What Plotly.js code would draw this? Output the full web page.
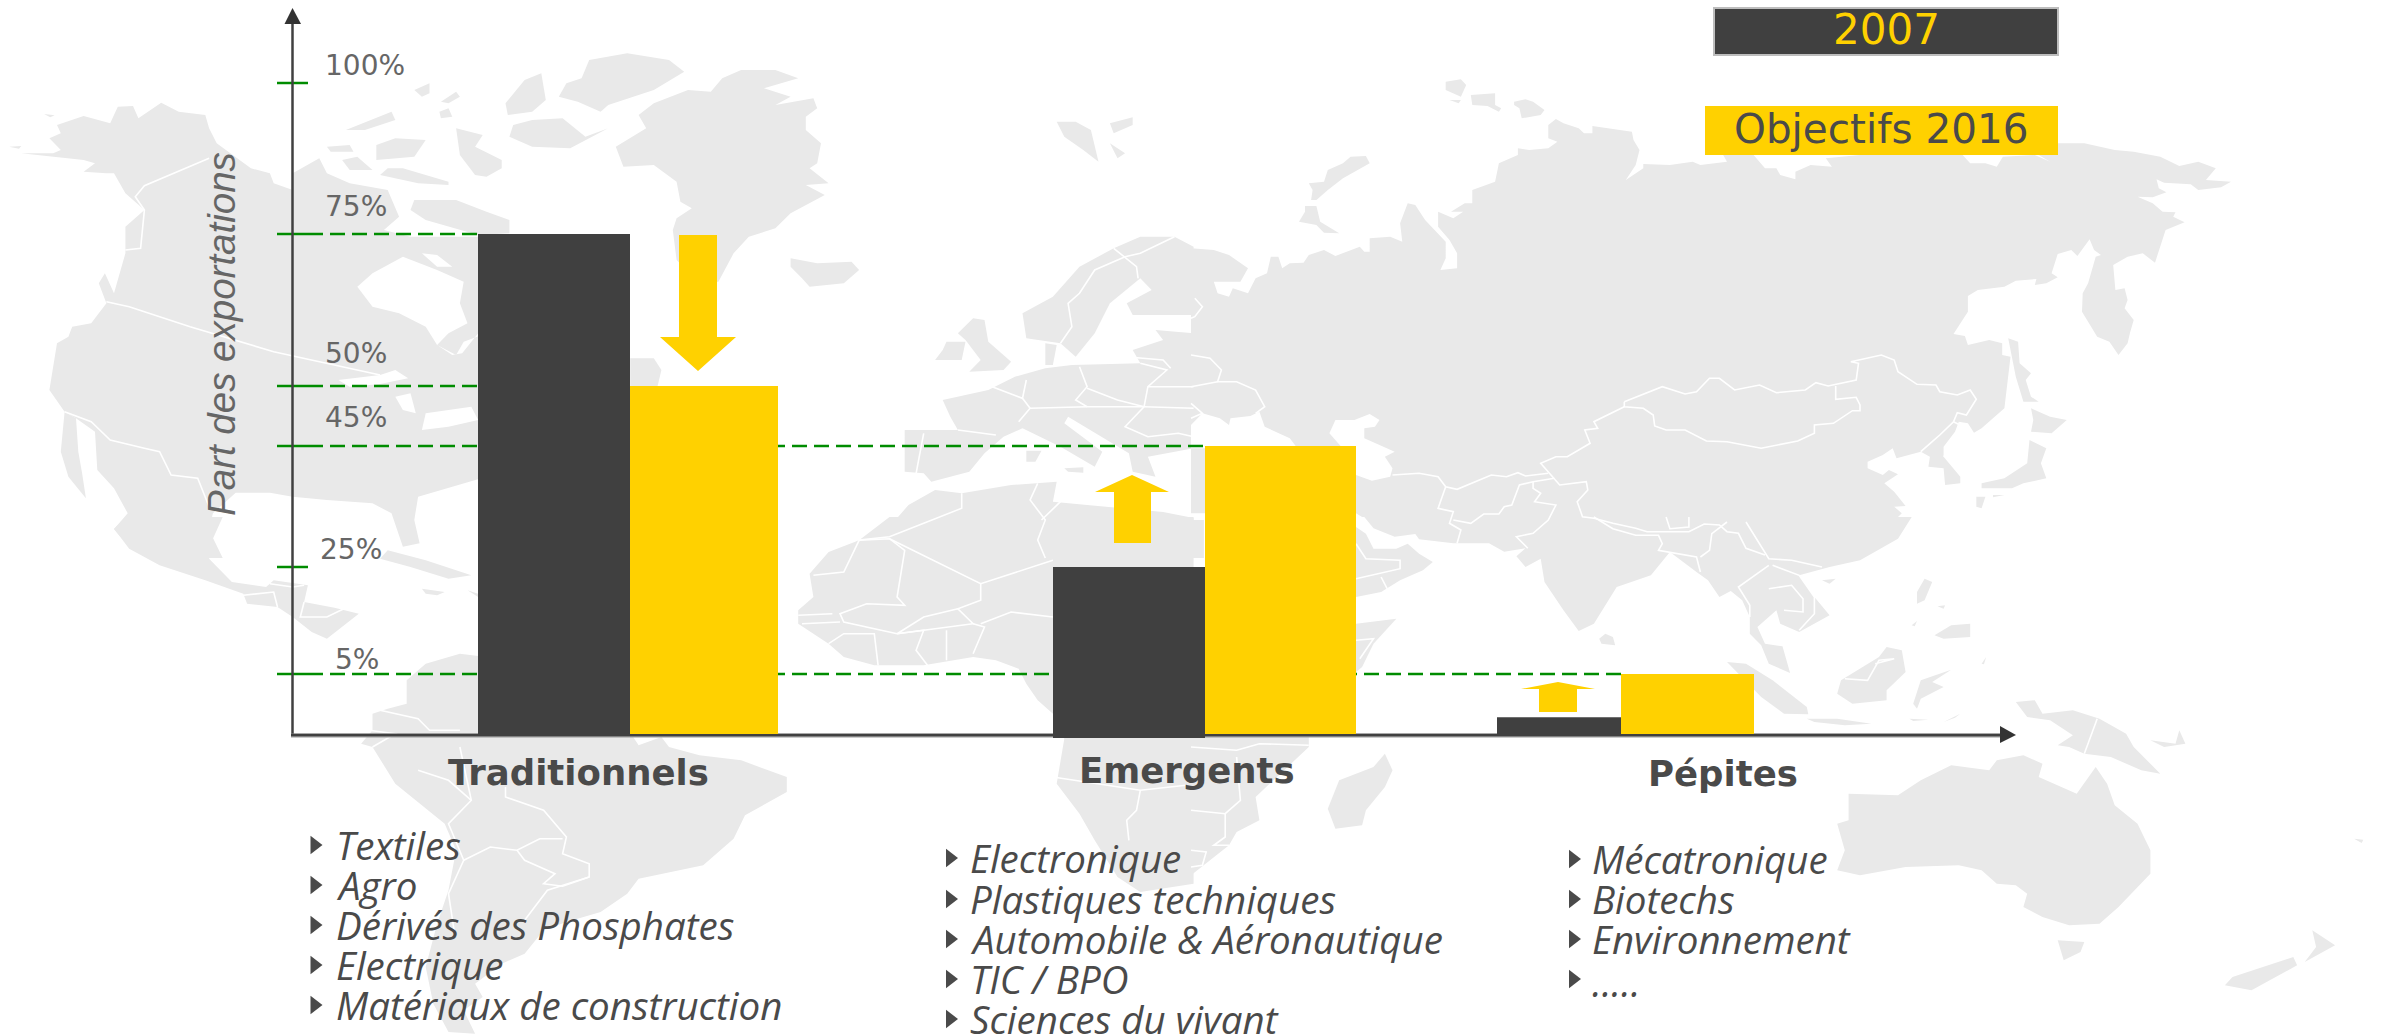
<!DOCTYPE html>
<html>
<head>
<meta charset="utf-8">
<script src="https://cdn.plot.ly/plotly-3.0.1.min.js"></script>
<style>html,body{margin:0;padding:0;background:#fff}</style>
</head>
<body>
<div id="chart" style="width:2383px;height:1035px"></div>
<script>
// ---------- chart values ----------
const categories = ['Traditionnels', 'Emergents', 'Pépites'];
const values2007 = [75, 25, 1.4];
const values2016 = [50, 45, 5];
const tickValues = [0, 5, 25, 45, 50, 75, 100];
const tickLabels = ['', '5%', '25%', '45%', '50%', '75%', '100%'];
const listTraditionnels = ['Textiles', 'Agro', 'Dérivés des Phosphates', 'Electrique', 'Matériaux de construction'];
const listEmergents = ['Electronique', 'Plastiques techniques', 'Automobile & Aéronautique', 'TIC / BPO', 'Sciences du vivant'];
const listPepites = ['Mécatronique', 'Biotechs', 'Environnement', '.....'];

// ---------- the reference's hand-drawn, non-uniform value axis (height in px above the baseline) ----------
const tickHeights = [0, 60, 167, 288, 348, 500, 651];
const BASE = 734;
function axisPos(v) {
  if (v <= tickValues[1]) return v * tickHeights[1] / tickValues[1];
  for (let i = 1; i < tickValues.length; i++) {
    if (v <= tickValues[i]) {
      const t = (v - tickValues[i-1]) / (tickValues[i] - tickValues[i-1]);
      return tickHeights[i-1] + t * (tickHeights[i] - tickHeights[i-1]);
    }
  }
  return tickHeights[tickHeights.length-1];
}
const Y = py => BASE - py;

// ---------- layout of the bars ----------
const darkEdges = [[478,630],[1053,1205],[1497,1621]];
const goldEdges = [[630,778],[1205,1356],[1621,1754]];
const darkBase = [0,-4,0];

const DARK = '#404040', GOLD = '#FFD100', LAND = '#E9E9E9', GREEN = '#008C00', TEXT = '#4A4A4A', AXT = '#666666';

// ---------- background world map, traced in four crops ----------
const Q = {A:[0,40], B:[1191,40], C:[0,517], D:[1191,517]};
const land = [
 ['A',[[75,255],[110,228],[145,250],[155,200],[175,198],[182,235],[212,188],[235,215],[270,225],[275,265],[285,310],[330,385],[355,400],[360,430],[385,450],[385,400],[420,355],[430,400],[460,430],[510,450],[525,530],[505,570],[540,590],[629,590],[640,1310],[550,1370],[545,1440],[552,1510],[530,1520],[515,1420],[490,1390],[430,1380],[385,1370],[355,1358],[310,1358],[280,1420],[275,1470],[293,1554],[195,1554],[170,1520],[150,1468],[168,1420],[150,1345],[128,1290],[125,1175],[100,1135],[85,1115],[65,1050],[75,910],[90,890],[95,860],[120,850],[140,790],[130,730],[138,700],[150,760],[165,640],[165,560],[190,510],[165,460],[150,400],[140,400],[110,395],[125,370],[110,360],[28,340],[70,340],[80,330],[65,295],[80,280]]],
 ['A',[[12,320],[28,318],[25,326]]],
 ['A',[[58,222],[72,226],[66,232]]],
 ['A',[[85,1115],[100,1135],[103,1235],[108,1300],[113,1375],[90,1310],[80,1235]]],
 ['A',[[765,115],[775,60],[825,40],[880,60],[900,95],[860,150],[800,195],[790,215],[760,185],[735,170],[745,130]]],
 ['A',[[665,190],[690,120],[712,100],[718,180],[700,215],[668,225]]],
 ['A',[[860,190],[905,150],[935,155],[950,115],[975,90],[1020,90],[1050,115],[1005,145],[1040,170],[1020,195],[1070,175],[1075,205],[1060,230],[1060,270],[1080,310],[1075,370],[1065,385],[1090,430],[1060,435],[1085,465],[1040,520],[1020,565],[985,590],[965,640],[945,725],[920,730],[890,660],[885,570],[890,535],[910,505],[895,485],[890,425],[860,375],[820,380],[810,320],[850,265],[840,225]]],
 ['A',[[675,255],[700,240],[740,235],[770,290],[800,265],[808,255],[750,325],[700,320],[670,290]]],
 ['A',[[600,265],[635,285],[625,320],[660,360],[660,385],[640,410],[625,405],[605,345]]],
 ['A',[[495,315],[520,295],[560,300],[545,350],[495,360]]],
 ['A',[[455,270],[515,215],[520,240],[480,270]]],
 ['A',[[580,185],[600,155],[605,170],[590,190]]],
 ['A',[[545,150],[565,130],[565,160],[555,170]]],
 ['A',[[578,215],[590,205],[595,230],[580,235]]],
 ['A',[[430,320],[460,315],[465,335],[435,335]]],
 ['A',[[450,360],[470,350],[490,390],[460,390]]],
 ['A',[[510,385],[530,385],[590,425],[590,435],[550,430],[500,405]]],
 ['A',[[545,480],[600,480],[640,515],[670,540],[670,580],[629,585],[560,540],[540,510]]],
 ['A',[[829,955],[860,955],[870,990],[865,1038],[829,1038]]],
 ['A',[[1040,655],[1075,670],[1120,665],[1130,690],[1110,730],[1065,740],[1055,715],[1040,680]]],
 ['A',[[1390,245],[1415,245],[1435,270],[1445,365],[1425,330],[1400,290]]],
 ['A',[[1460,250],[1490,232],[1490,255],[1465,280]]],
 ['A',[[1460,310],[1480,340],[1470,355]]],
 ['A',[[1280,835],[1295,840],[1300,905],[1330,965],[1320,990],[1275,995],[1290,960],[1270,900],[1260,880]]],
 ['A',[[1245,905],[1270,905],[1265,960],[1230,960],[1240,930]]],
 ['A',[[1345,820],[1385,770],[1420,680],[1465,625],[1500,590],[1545,590],[1570,620],[1570,825],[1490,825],[1482,790],[1515,750],[1500,715],[1460,790],[1440,880],[1415,950],[1395,910],[1350,895]]],
 ['A',[[1375,910],[1390,915],[1385,975],[1375,975]]],
 ['A',[[1240,1080],[1300,1050],[1335,1010],[1375,985],[1410,975],[1500,970],[1490,930],[1530,900],[1520,870],[1570,880],[1570,1225],[1510,1250],[1520,1310],[1490,1295],[1485,1240],[1405,1130],[1400,1150],[1450,1235],[1440,1280],[1395,1220],[1345,1165],[1320,1190],[1295,1240],[1275,1295],[1225,1325],[1215,1300],[1190,1295],[1190,1170],[1260,1170],[1250,1130]]],
 ['A',[[1350,1232],[1370,1232],[1362,1265],[1350,1265]]],
 ['A',[[1400,1285],[1425,1282],[1425,1298],[1405,1295]]],
 ['A',[[1090,1554],[1130,1500],[1170,1460],[1195,1395],[1230,1350],[1265,1360],[1330,1335],[1390,1325],[1385,1385],[1430,1395],[1530,1416],[1570,1434],[1570,1554]]],
 ['C',[[1170,0],[1130,70],[1090,105],[1065,170],[1070,240],[1050,280],[1050,320],[1090,380],[1110,420],[1150,445],[1215,445],[1280,420],[1310,430],[1340,455],[1350,500],[1365,550],[1385,590],[1400,665],[1390,800],[1420,890],[1440,970],[1470,1080],[1500,1125],[1570,1100],[1570,0]]],
 ['C',[[150,35],[170,95],[210,145],[270,190],[320,230],[325,260],[365,270],[385,300],[410,345],[430,365],[472,290],[440,272],[400,255],[405,205],[360,190],[350,210],[305,195],[275,125],[280,65],[293,0],[165,0]]],
 ['C',[[510,100],[560,130],[620,175],[590,185],[540,150],[500,125]]],
 ['C',[[555,215],[585,225],[575,235],[560,230]]],
 ['C',[[615,220],[629,230],[629,240]]],
 ['C',[[490,590],[510,575],[535,560],[535,490],[560,440],[605,410],[640,420],[640,650],[830,650],[840,685],[870,660],[880,690],[920,715],[975,730],[1035,780],[1035,825],[980,895],[965,965],[925,1045],[840,1085],[825,1130],[790,1185],[745,1215],[715,1240],[690,1310],[660,1340],[625,1400],[635,1440],[610,1480],[625,1550],[590,1545],[570,1460],[560,1350],[575,1220],[590,1120],[600,1000],[585,920],[520,800],[490,690],[475,680],[490,640]]],
 ['B',[[0,625],[30,630],[50,645],[75,685],[65,725],[30,725],[35,760],[50,770],[55,745],[75,760],[85,715],[100,700],[105,650],[115,650],[120,685],[130,670],[148,668],[155,645],[175,630],[190,648],[222,620],[228,635],[235,635],[235,595],[262,590],[278,605],[275,550],[285,490],[295,495],[308,540],[335,605],[335,655],[328,690],[350,685],[350,640],[340,600],[325,560],[325,515],[345,535],[358,515],[342,515],[360,490],[370,490],[370,450],[400,425],[405,370],[430,345],[430,325],[445,330],[470,325],[482,305],[470,295],[470,255],[480,237],[490,250],[510,265],[517,280],[528,280],[528,258],[580,275],[582,300],[590,330],[585,375],[572,420],[595,385],[595,372],[630,375],[660,365],[670,375],[705,365],[700,345],[740,345],[755,385],[770,385],[775,405],[795,418],[795,395],[815,375],[843,380],[835,355],[880,345],[960,345],[1015,345],[1025,370],[1045,370],[1060,380],[1068,350],[1110,345],[1130,365],[1115,345],[1140,345],[1140,310],[1175,310],[1215,330],[1240,335],[1275,350],[1300,378],[1325,365],[1348,385],[1335,420],[1368,425],[1355,442],[1325,450],[1315,433],[1280,428],[1270,418],[1273,445],[1283,457],[1265,472],[1245,470],[1265,490],[1278,515],[1295,517],[1292,530],[1307,547],[1282,570],[1268,668],[1252,640],[1232,650],[1213,675],[1216,750],[1228,745],[1232,780],[1228,805],[1240,840],[1235,880],[1232,910],[1220,945],[1208,905],[1192,890],[1172,815],[1173,760],[1180,730],[1190,650],[1197,645],[1188,630],[1182,598],[1166,648],[1158,630],[1140,642],[1132,700],[1140,712],[1125,730],[1110,735],[1112,717],[1085,722],[1070,740],[1035,750],[1022,768],[1022,815],[1003,882],[1018,888],[1022,915],[1050,900],[1067,910],[1067,945],[1078,950],[1070,1105],[1040,1165],[1030,1178],[1022,1150],[1010,1145],[1005,1175],[990,1220],[990,1250],[1012,1310],[1012,1330],[992,1335],[990,1285],[970,1280],[972,1250],[960,1235],[928,1255],[923,1225],[910,1245],[890,1265],[890,1285],[910,1305],[918,1290],[930,1303],[912,1330],[925,1355],[940,1398],[925,1400],[935,1420],[930,1431],[948,1431],[225,1431],[217,1420],[0,1420]]],
 ['B',[[0,1235],[17,1235],[17,1320],[0,1300]]],
 ['B',[[0,1440],[17,1440],[17,1554],[0,1554]]],
 ['B',[[155,430],[175,425],[180,390],[200,370],[210,350],[230,348],[235,370],[200,415],[180,450],[165,480],[158,480],[160,450]]],
 ['B',[[150,498],[165,498],[170,545],[195,580],[175,578],[165,555],[142,545],[150,515]]],
 ['B',[[335,125],[355,118],[362,135],[355,170],[335,150]]],
 ['B',[[368,165],[400,160],[400,195],[408,205],[405,215],[390,198],[370,195]]],
 ['B',[[340,180],[355,180],[352,190]]],
 ['B',[[425,185],[440,178],[450,185],[465,210],[460,225],[435,235],[432,205],[425,195]]],
 ['B',[[1105,1105],[1130,1130],[1152,1140],[1132,1180],[1105,1175],[1108,1140]]],
 ['B',[[1103,1200],[1125,1225],[1118,1270],[1125,1315],[1095,1330],[1080,1345],[1040,1345],[1040,1330],[1070,1315],[1100,1270]]],
 ['B',[[1033,1370],[1045,1370],[1040,1405],[1033,1400]]],
 ['B',[[1055,1365],[1070,1365],[1055,1372]]],
 ['B',[[1075,895],[1088,905],[1090,970],[1105,1000],[1098,1020],[1105,1070],[1115,1085],[1095,1085],[1085,1010]]],
 ['D',[[228,0],[240,34],[268,59],[295,51],[300,67],[345,79],[392,79],[412,104],[440,94],[428,118],[440,150],[460,125],[465,195],[490,280],[510,342],[530,320],[560,210],[605,175],[630,105],[665,165],[680,190],[695,240],[710,222],[725,250],[735,300],[735,350],[750,385],[760,440],[788,468],[778,388],[755,380],[745,330],[770,280],[775,320],[800,345],[840,295],[820,240],[800,175],[840,150],[880,130],[930,65],[948,0]]],
 ['D',[[217,30],[230,50],[240,95],[270,95],[285,80],[300,110],[318,135],[305,160],[275,190],[250,225],[217,240]]],
 ['D',[[217,320],[270,305],[240,380],[225,450],[217,465]]],
 ['D',[[0,650],[155,650],[155,690],[85,840],[90,910],[60,945],[50,985],[0,1075]]],
 ['D',[[255,710],[265,760],[255,810],[230,880],[225,925],[190,935],[180,875],[195,790],[240,750]]],
 ['D',[[545,350],[555,360],[558,385],[540,380],[537,365]]],
 ['D',[[830,190],[848,185],[840,200]]],
 ['D',[[965,185],[975,195],[965,250],[955,260],[955,225]]],
 ['D',[[1000,325],[1025,320],[1025,360],[990,365],[978,355]]],
 ['D',[[982,268],[992,265],[990,275]]],
 ['D',[[948,325],[955,312],[952,328]]],
 ['D',[[855,490],[905,420],[915,390],[935,400],[940,465],[915,520],[915,550],[870,560],[850,530]]],
 ['D',[[950,560],[960,490],[1000,458],[975,495],[990,510],[960,545],[955,575]]],
 ['D',[[705,435],[730,440],[765,490],[810,570],[812,592],[780,590],[750,540]]],
 ['D',[[810,605],[850,605],[895,620],[860,625],[820,615]]],
 ['D',[[945,605],[970,608],[950,612]]],
 ['D',[[990,615],[1012,590],[1005,602]]],
 ['D',[[1040,440],[1046,420],[1043,442]]],
 ['D',[[1085,555],[1110,550],[1120,590],[1160,580],[1195,605],[1230,650],[1240,690],[1275,770],[1250,760],[1210,720],[1175,710],[1155,690],[1140,685],[1160,655],[1130,610],[1100,600]]],
 ['D',[[1262,670],[1295,680],[1300,640],[1308,680],[1280,690]]],
 ['D',[[850,920],[865,910],[865,830],[930,835],[960,790],[1000,745],[1050,760],[1060,730],[1095,715],[1120,740],[1115,780],[1165,830],[1190,750],[1205,800],[1215,865],[1245,920],[1262,1000],[1262,1070],[1220,1170],[1195,1220],[1155,1225],[1120,1200],[1095,1170],[1100,1130],[1085,1105],[1060,1100],[1040,1060],[1010,1045],[940,1050],[880,1075],[850,1060],[860,1000]]],
 ['D',[[1140,1270],[1175,1275],[1170,1305],[1148,1330]]],
 ['D',[[1475,1240],[1505,1285],[1465,1335],[1480,1290]]],
 ['D',[[1450,1320],[1455,1345],[1395,1420],[1360,1405],[1370,1380]]],
 ['D',[[1530,965],[1542,968],[1540,978]]]
];
const water = [
 ['A',[[470,740],[490,700],[530,650],[575,690],[610,725],[605,790],[615,850],[590,880],[575,915],[595,945],[608,940],[629,880],[640,1000],[640,1200],[640,880],[610,905],[600,945],[575,915],[560,860],[525,820],[490,800]]],
 ['A',[[555,640],[575,645],[595,680],[575,680]]],
 ['A',[[445,1020],[500,1005],[520,990],[537,1015],[500,1032],[460,1040]]],
 ['A',[[520,1070],[540,1060],[547,1120],[530,1110]]],
 ['A',[[560,1120],[620,1100],[629,1140],[590,1160],[555,1170]]],
 ['B',[[190,1140],[215,1140],[235,1122],[248,1140],[242,1160],[228,1165],[228,1195],[268,1235],[255,1250],[265,1285],[262,1310],[238,1322],[217,1305],[215,1265],[182,1180]]],
 ['B',[[0,1155],[15,1120],[38,1135],[50,1155],[52,1135],[78,1128],[90,1115],[97,1160],[130,1195],[140,1225],[0,1225]]]
];
const borders = [
 ['A',[[275,355],[190,437],[178,470],[190,510],[185,625],[165,630]]],
 ['A',[[140,785],[170,800],[250,860],[360,935],[500,1005]]],
 ['A',[[85,1115],[120,1145],[145,1200],[190,1225],[210,1235],[225,1305],[260,1315],[275,1400]]],
 ['A',[[1465,625],[1495,680],[1497,715]]],
 ['A',[[1545,590],[1500,640],[1480,650],[1440,690],[1420,760],[1405,790],[1410,860],[1395,910]]],
 ['A',[[1305,1040],[1345,1075],[1350,1020]]],
 ['A',[[1345,1075],[1355,1105],[1340,1145]]],
 ['A',[[1355,1105],[1430,1100],[1470,1100],[1505,1100]]],
 ['A',[[1420,980],[1430,1040],[1415,1080],[1430,1100]]],
 ['A',[[1430,1045],[1470,1080],[1505,1100]]],
 ['A',[[1505,1100],[1480,1160],[1510,1190],[1550,1180],[1570,1190]]],
 ['A',[[1505,1100],[1570,1105]]],
 ['A',[[1500,970],[1535,990],[1510,1040],[1505,1100]]],
 ['A',[[1480,950],[1530,960],[1540,985]]],
 ['A',[[1510,1040],[1570,1040]]],
 ['A',[[1260,1170],[1310,1185]]],
 ['A',[[1215,1180],[1205,1300]]],
 ['A',[[1265,1360],[1265,1405],[1215,1450],[1170,1490],[1130,1500]]],
 ['A',[[1365,1330],[1355,1380],[1375,1440],[1365,1500],[1375,1554]]],
 ['A',[[1395,1385],[1370,1440]]],
 ['C',[[1170,65],[1290,200],[1385,130]]],
 ['C',[[1290,200],[1290,250],[1260,275],[1280,320],[1180,350],[1110,315],[1105,290],[1140,260],[1190,265],[1180,240],[1190,100],[1170,65],[1130,70],[1110,165],[1070,175]]],
 ['C',[[1260,275],[1215,300],[1180,350],[1215,340],[1205,400],[1220,445]]],
 ['C',[[1245,340],[1245,430]]],
 ['C',[[1280,320],[1295,330],[1280,410]]],
 ['C',[[1090,380],[1110,350],[1150,350],[1155,445]]],
 ['C',[[1050,295],[1095,290]]],
 ['C',[[1055,320],[1105,315]]],
 ['C',[[1385,780],[1500,820],[1560,805]]],
 ['C',[[1500,820],[1495,880],[1482,910],[1485,970]]],
 ['C',[[1290,320],[1330,285],[1385,300]]],
 ['C',[[605,690],[620,850],[590,920],[610,1030],[590,1130],[598,1250]]],
 ['C',[[665,810],[665,840],[715,880],[745,960],[740,1010],[775,1040],[775,1080],[720,1120],[690,1210]]],
 ['C',[[610,1030],[645,990],[680,1000],[710,965],[740,965]]],
 ['C',[[680,1000],[690,1030],[730,1070],[715,1100],[740,1108],[775,1080]]],
 ['C',[[500,580],[550,605],[565,640],[605,640]]],
 ['C',[[490,690],[520,650],[485,640]]],
 ['C',[[550,760],[590,790],[620,850]]],
 ['C',[[355,200],[385,210],[400,205]]],
 ['C',[[320,235],[360,225],[365,270]]],
 ['C',[[400,255],[395,300],[430,300],[455,272]]],
 ['B',[[570,1085],[620,1040],[650,1062],[665,1055],[682,1015],[695,1015],[715,1050],[748,1035],[770,1058],[808,1050],[822,1028],[838,1038],[875,1020],[878,970],[868,965],[908,945],[925,960],[930,995],[955,1033],[980,1035],[985,1055],[1008,1065],[1025,1050],[1033,1078],[1020,1125],[1008,1118],[1003,1145],[985,1185],[975,1205],[960,1235]]],
 ['B',[[1003,1145],[1020,1165],[1008,1215],[990,1250]]],
 ['B',[[570,1085],[570,1100],[595,1105],[608,1125],[610,1158],[625,1170],[650,1170],[678,1203],[705,1205],[750,1225],[798,1203],[820,1180],[820,1155],[845,1150],[870,1112],[880,1112],[880,1095],[875,1072],[848,1078],[848,1038]]],
 ['B',[[570,1100],[530,1145],[535,1165],[518,1170],[525,1210],[495,1250],[480,1250],[460,1270],[485,1335],[520,1325],[522,1350],[508,1385],[515,1430],[530,1435],[555,1450],[585,1465],[600,1475],[655,1475],[675,1452],[695,1455],[705,1475],[720,1480],[730,1525],[755,1545]]],
 ['B',[[265,1305],[300,1300],[325,1310],[335,1340],[350,1348],[395,1305],[415,1310],[430,1298],[440,1308],[470,1300]]],
 ['B',[[335,1340],[328,1385],[325,1405],[345,1415],[340,1450],[355,1470],[350,1510]]],
 ['B',[[345,1440],[368,1450],[385,1422],[405,1422],[412,1400],[422,1395],[432,1335],[450,1325],[478,1315]]],
 ['B',[[450,1325],[450,1345],[460,1360],[452,1385],[480,1395],[470,1440],[450,1480],[428,1490],[443,1525]]],
 ['B',[[0,945],[25,955],[40,990],[35,1025],[60,1025],[85,1050],[97,1100],[85,1120]]],
 ['B',[[35,1025],[0,1040]]],
 ['B',[[0,1090],[15,1120],[0,1135]]],
 ['B',[[5,775],[15,800],[5,830],[0,835]]],
 ['D',[[530,0],[555,35],[585,55],[615,55],[620,80],[615,100],[665,120],[670,165]]],
 ['D',[[625,0],[630,35],[655,30],[655,0]]],
 ['D',[[705,15],[685,50],[682,100],[670,120]]],
 ['D',[[730,15],[760,125],[790,130],[830,150]]],
 ['D',[[760,145],[720,210],[735,265],[735,300]]],
 ['D',[[765,145],[800,175],[820,240],[820,290],[800,340]]],
 ['D',[[760,215],[790,205],[805,245],[805,285],[780,280]]],
 ['D',[[217,80],[230,125],[275,130],[275,155],[217,185]]],
 ['D',[[250,180],[258,215]]],
 ['D',[[217,370],[240,365],[222,425]]],
 ['D',[[0,690],[60,700],[90,680],[155,685]]],
 ['D',[[60,720],[65,850],[45,890],[0,880]]],
 ['D',[[45,890],[45,960],[30,985],[50,985]]],
 ['D',[[0,1000],[20,1005],[15,1045],[0,1050]]],
 ['D',[[1192,605],[1175,710]]],
 ['D',[[860,485],[890,490],[905,430],[925,425],[900,440]]]
];

function toPath(q, pts, closed) {
  const [ox, oy] = Q[q];
  const s = pts.map((p, i) => (i ? 'L' : 'M') + (ox + p[0] / 1.3154).toFixed(1) + ',' + Y(oy + p[1] / 3).toFixed(1)).join(' ');
  return s + (closed ? ' Z' : '');
}
function pxPath(pts) {
  return pts.map((p, i) => (i ? 'L' : 'M') + p[0] + ',' + Y(p[1])).join(' ') + ' Z';
}

const shapes = [];
land.forEach(([q, pts]) => shapes.push({type:'path', xref:'x', yref:'y', layer:'below', path:toPath(q, pts, true), fillcolor:LAND, line:{width:0}}));
water.forEach(([q, pts]) => shapes.push({type:'path', xref:'x', yref:'y', layer:'below', path:toPath(q, pts, true), fillcolor:'#FFFFFF', line:{width:0}}));
borders.forEach(([q, pts]) => shapes.push({type:'path', xref:'x', yref:'y', layer:'below', path:toPath(q, pts, false), fillcolor:'rgba(0,0,0,0)', line:{color:'#FFFFFF', width:1.6}}));

// ---------- reference lines ----------
const tickLineEnds = {5:1621, 25:null, 45:1204, 50:478, 75:478, 100:null};
tickValues.slice(1).forEach(v => {
  const h = axisPos(v);
  shapes.push({type:'line', xref:'x', yref:'y', layer:'below', x0:277, x1:308, y0:h, y1:h, line:{color:GREEN, width:2.5}});
  if (tickLineEnds[v]) shapes.push({type:'line', xref:'x', yref:'y', layer:'below', x0:308, x1:tickLineEnds[v], y0:h, y1:h, line:{color:GREEN, width:2.5, dash:'15px,7px'}});
});

// ---------- axes drawn as arrows ----------
shapes.push({type:'line', xref:'x', yref:'y', layer:'below', x0:292.5, x1:292.5, y0:Y(735), y1:Y(20), line:{color:DARK, width:2.5}});
shapes.push({type:'line', xref:'x', yref:'y', layer:'below', x0:291, x1:2004, y0:Y(735.5), y1:Y(735.5), line:{color:'#999999', width:4}});
shapes.push({type:'line', xref:'x', yref:'y', layer:'below', x0:291, x1:2004, y0:Y(735), y1:Y(735), line:{color:DARK, width:2.5}});
shapes.push({type:'path', xref:'x', yref:'y', layer:'below', path:pxPath([[292.5,8],[301,24],[284.5,24]]), fillcolor:'#333333', line:{width:0}});
shapes.push({type:'path', xref:'x', yref:'y', layer:'below', path:pxPath([[2016,735],[2000,726],[2000,743]]), fillcolor:'#333333', line:{width:0}});

// ---------- change arrows and legend boxes ----------
[
 [[679,235],[717,235],[717,337],[736,337],[698,371],[660,337],[679,337]],
 [[1114,543],[1151,543],[1151,492],[1169,492],[1132,475],[1095,492],[1114,492]],
 [[1539,712],[1577,712],[1577,689],[1595,689],[1558,682],[1521,689],[1539,689]]
].forEach(a => shapes.push({type:'path', xref:'x', yref:'y', layer:'above', path:pxPath(a), fillcolor:GOLD, line:{width:0}}));
shapes.push({type:'rect', xref:'x', yref:'y', layer:'above', x0:1714, x1:2058, y0:Y(8), y1:Y(55), fillcolor:DARK, line:{color:'#BDBDBD', width:2}});
shapes.push({type:'rect', xref:'x', yref:'y', layer:'above', x0:1705, x1:2058, y0:Y(106), y1:Y(155), fillcolor:GOLD, line:{width:0}});

// ---------- text ----------
const FONT = '"DejaVu Sans"';
const LISTFONT = '"Open Sans"';
const ann = (text, x, py, o) => Object.assign({text, x, y:Y(py), xref:'x', yref:'y', showarrow:false, xanchor:'left', yanchor:'middle', borderpad:0, borderwidth:0}, o);

const annotations = [];
const tickLabelAt = {'5%':[335,659], '25%':[320,549], '45%':[325,417], '50%':[325,353], '75%':[325,206], '100%':[325,65]};
tickLabels.forEach(t => { if (t) annotations.push(ann(t, tickLabelAt[t][0], tickLabelAt[t][1], {font:{family:FONT, size:28, color:AXT}})); });
annotations.push(ann('Part des exportations', 221, 334, {xanchor:'center', textangle:-90, font:{family:'"Liberation Sans"', size:38.5, color:AXT, style:'italic'}}));
const catAt = [[578,772],[1187,770],[1723,773]];
categories.forEach((c, i) => annotations.push(ann('<b>' + c + '</b>', catAt[i][0], catAt[i][1], {xanchor:'center', font:{family:FONT, size:35.5, color:TEXT}})));
annotations.push(ann('2007', 1886, 29, {xanchor:'center', font:{family:FONT, size:42, color:GOLD}}));
annotations.push(ann('Objectifs 2016', 1881, 129, {xanchor:'center', font:{family:FONT, size:40.5, color:TEXT}}));

const bulletX = [], bulletY = [];
function addList(items, bx, tx, rows) {
  items.forEach((t, i) => {
    bulletX.push(bx); bulletY.push(Y(rows[i]));
    annotations.push(ann(t, tx, t === '.....' ? rows[i] + 3 : rows[i], {font:{family:LISTFONT, size:38.5, color:TEXT, style:'italic'}}));
  });
}
addList(listTraditionnels, 314.5, 335.5, [845,885,925,965,1005]);
addList(listEmergents, 950, 970, [858,899,939,979,1019]);
addList(listPepites, 1573, 1592, [859,899,939,979]);

// ---------- traces ----------
const mid = e => (e[0] + e[1]) / 2, wid = e => e[1] - e[0];
const traces = [
 {type:'bar', name:'2007', x:darkEdges.map(mid), width:darkEdges.map(wid), base:darkBase,
  y:values2007.map((v, i) => axisPos(v) - darkBase[i]), marker:{color:DARK, line:{width:0}}, hoverinfo:'skip'},
 {type:'bar', name:'Objectifs 2016', x:goldEdges.map(mid), width:goldEdges.map(wid), base:[0,0,0],
  y:values2016.map(axisPos), marker:{color:GOLD, line:{width:0}}, hoverinfo:'skip'},
 {type:'scatter', mode:'markers', x:bulletX, y:bulletY, cliponaxis:false,
  marker:{symbol:'triangle-right', size:16, color:TEXT, line:{width:0}}, hoverinfo:'skip'}
];

Plotly.newPlot('chart', traces, {
  width:2383, height:1035, margin:{l:0, r:0, t:0, b:0}, showlegend:false, barmode:'overlay',
  paper_bgcolor:'#FFFFFF', plot_bgcolor:'rgba(0,0,0,0)',
  xaxis:{range:[0,2383], visible:false, fixedrange:true},
  yaxis:{range:[BASE-1035, BASE], visible:false, fixedrange:true},
  shapes, annotations
}, {displayModeBar:false, staticPlot:true});
</script>
</body>
</html>
